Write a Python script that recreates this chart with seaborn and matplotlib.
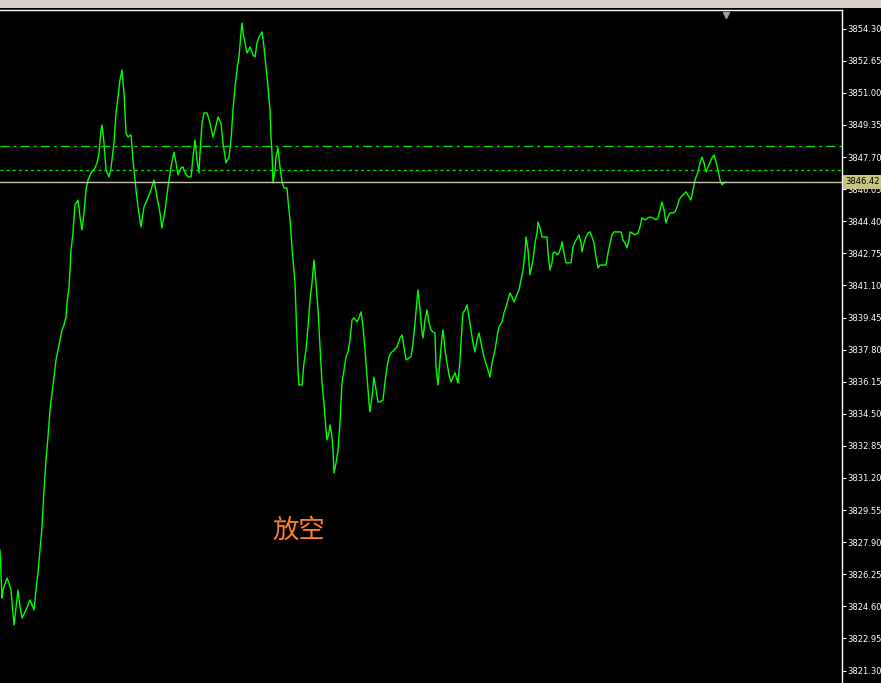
import matplotlib
matplotlib.use('Agg')
import matplotlib.pyplot as plt
import seaborn as sns
from matplotlib.patches import Rectangle

# M1 closes (bar position, price)
bars = [0, 2, 3, 7, 9, 11, 14, 18, 20, 22, 26, 30, 34, 36, 38, 40, 42, 44, 46, 48,
        50, 52, 54, 56, 58, 60, 62, 64, 66, 67, 69, 70, 71, 73, 74, 75, 78, 80, 82, 84,
        86, 88, 91, 95, 97, 99, 101, 102, 104, 106, 109, 111, 114, 116, 118, 120, 122, 124, 126, 128,
        131, 133, 136, 138, 141, 144, 147, 151, 154, 157, 160, 162, 165, 168, 171, 174, 176, 178, 181, 183,
        185, 188, 191, 193, 195, 197, 199, 200, 202, 204, 207, 210, 213, 215, 218, 221, 223, 226, 229, 231,
        233, 235, 237, 239, 241, 242, 243, 245, 247, 250, 253, 255, 257, 259, 262, 264, 266, 268, 270, 271,
        272, 273, 275, 276, 278, 280, 282, 284, 287, 288, 290, 291, 292, 293, 295, 296, 297, 298, 299, 302,
        304, 306, 308, 310, 312, 314, 316, 318, 320, 322, 324, 326, 327, 329, 330, 332, 333, 334, 336, 338,
        340, 342, 344, 346, 348, 350, 352, 354, 357, 359, 361, 363, 365, 367, 369, 370, 372, 374, 376, 378,
        380, 383, 385, 387, 389, 391, 394, 397, 400, 402, 404, 406, 409, 411, 413, 415, 417, 418, 420, 422,
        423, 425, 427, 429, 431, 433, 435, 436, 438, 440, 442, 443, 445, 447, 449, 451, 453, 455, 457, 458,
        460, 462, 463, 465, 467, 469, 471, 473, 475, 477, 479, 481, 484, 487, 489, 490, 492, 495, 497, 499,
        502, 504, 506, 508, 510, 512, 514, 516, 519, 521, 523, 525, 526, 528, 530, 533, 535, 537, 538, 540,
        542, 545, 547, 548, 550, 552, 553, 555, 557, 559, 561, 562, 564, 566, 569, 571, 573, 575, 578, 579,
        581, 582, 584, 586, 588, 590, 592, 594, 596, 598, 600, 603, 606, 608, 610, 612, 614, 617, 621, 623,
        625, 627, 629, 630, 632, 635, 638, 640, 642, 645, 648, 650, 653, 656, 658, 660, 662, 664, 666, 668,
        670, 673, 675, 677, 679, 681, 683, 686, 689, 691, 693, 695, 698, 700, 702, 704, 706, 708, 711, 714,
        716, 718, 720, 722, 724, 726]

close = [3827.50, 3825.03, 3825.44, 3826.06, 3825.80, 3825.44, 3823.64, 3825.44, 3824.57, 3824.00,
         3824.42, 3824.93, 3824.42, 3825.44, 3826.32, 3827.50, 3828.68, 3830.59, 3832.13, 3833.31,
         3834.70, 3835.57, 3836.39, 3837.27, 3837.78, 3838.30, 3838.81, 3839.07, 3839.48, 3840.20,
         3841.02, 3841.90, 3842.92, 3843.80, 3844.57, 3845.24, 3845.49, 3844.62, 3843.95, 3844.83,
         3846.01, 3846.52, 3846.88, 3847.14, 3847.40, 3847.91, 3849.09, 3849.35, 3848.42, 3847.04,
         3846.68, 3847.14, 3848.42, 3849.97, 3850.79, 3851.66, 3852.18, 3851.00, 3848.94, 3848.73,
         3848.84, 3847.55, 3846.01, 3845.13, 3844.11, 3845.13, 3845.49, 3846.01, 3846.52, 3845.65,
         3844.83, 3844.05, 3844.98, 3846.16, 3847.19, 3847.96, 3847.40, 3846.78, 3847.14, 3847.19,
         3846.88, 3846.68, 3846.68, 3847.70, 3848.58, 3847.55, 3846.88, 3847.91, 3849.45, 3849.97,
         3849.97, 3849.45, 3848.73, 3849.09, 3849.76, 3849.45, 3848.42, 3847.40, 3847.70, 3848.58,
         3850.12, 3851.30, 3852.18, 3852.85, 3854.08, 3854.59, 3854.08, 3853.57, 3853.05, 3853.36,
         3852.95, 3852.85, 3853.57, 3853.87, 3854.13, 3853.36, 3852.33, 3851.30, 3850.12, 3848.73,
         3847.91, 3846.37, 3847.04, 3847.70, 3848.17, 3847.19, 3846.42, 3846.11, 3846.11, 3845.49,
         3844.47, 3843.80, 3843.03, 3842.41, 3841.23, 3839.84, 3838.30, 3836.75, 3835.98, 3835.98,
         3837.11, 3837.78, 3838.97, 3840.35, 3841.23, 3842.41, 3841.23, 3839.84, 3837.94, 3836.09,
         3835.06, 3833.67, 3833.16, 3833.52, 3833.93, 3833.31, 3832.64, 3831.46, 3831.97, 3832.64,
         3834.03, 3836.09, 3836.75, 3837.42, 3837.68, 3838.30, 3839.32, 3839.43, 3839.22, 3839.43,
         3839.74, 3838.97, 3837.78, 3836.39, 3835.06, 3834.60, 3835.37, 3836.39, 3835.73, 3835.11,
         3835.11, 3835.21, 3836.14, 3836.91, 3837.42, 3837.63, 3837.78, 3837.94, 3838.40, 3838.55,
         3837.94, 3837.27, 3837.37, 3837.42, 3838.14, 3839.17, 3840.35, 3840.87, 3839.84, 3838.66,
         3838.40, 3839.32, 3839.84, 3839.17, 3838.81, 3838.71, 3838.66, 3836.91, 3835.98, 3837.27,
         3838.45, 3838.81, 3837.78, 3837.11, 3836.50, 3836.14, 3836.39, 3836.60, 3836.24, 3836.09,
         3837.27, 3838.97, 3839.69, 3839.84, 3840.10, 3839.48, 3838.81, 3838.14, 3837.68, 3838.30,
         3838.66, 3838.14, 3837.42, 3836.91, 3836.60, 3836.39, 3837.11, 3837.78, 3838.45, 3838.97,
         3839.22, 3839.69, 3839.99, 3840.35, 3840.71, 3840.51, 3840.25, 3840.51, 3840.87, 3841.38,
         3841.90, 3842.77, 3843.59, 3842.92, 3841.64, 3842.41, 3843.28, 3843.80, 3844.36, 3844.05,
         3843.59, 3843.59, 3843.59, 3842.77, 3841.90, 3842.26, 3842.77, 3842.82, 3842.67, 3842.77,
         3843.08, 3843.34, 3842.77, 3842.26, 3842.26, 3842.26, 3843.08, 3843.34, 3843.59, 3843.70,
         3843.28, 3842.82, 3843.28, 3843.59, 3843.80, 3843.85, 3843.59, 3843.28, 3842.56, 3842.00,
         3842.15, 3842.15, 3842.15, 3842.77, 3843.28, 3843.70, 3843.85, 3843.85, 3843.85, 3843.44,
         3843.28, 3843.03, 3843.44, 3843.85, 3843.80, 3843.70, 3843.80, 3844.11, 3844.57, 3844.47,
         3844.57, 3844.62, 3844.57, 3844.47, 3844.57, 3844.98, 3845.39, 3844.98, 3844.31, 3844.62,
         3844.83, 3844.83, 3844.88, 3845.13, 3845.49, 3845.65, 3845.75, 3845.91, 3845.65, 3845.49,
         3846.01, 3846.52, 3846.93, 3847.40, 3847.70, 3847.40, 3846.93, 3847.19, 3847.55, 3847.81,
         3847.45, 3847.04, 3846.52, 3846.27, 3846.37, 3846.42]

# horizontal levels
level_dashdot = 3848.27
level_dotted = 3847.04
bid = 3846.42

# right axis ticks
price_ticks = [3854.30, 3852.65, 3851.00, 3849.35, 3847.70, 3846.05, 3844.40, 3842.75,
               3841.10, 3839.45, 3837.80, 3836.15, 3834.50, 3832.85, 3831.20, 3829.55,
               3827.90, 3826.25, 3824.60, 3822.95, 3821.30]
tick_labels = [f'{p:.2f}' for p in price_ticks]

label_text = '放空'

sns.set_style('dark', {'axes.facecolor': 'black', 'figure.facecolor': 'black'})
plt.rcParams['font.family'] = ['DejaVu Sans', 'Noto Sans CJK SC']
plt.rcParams['lines.scale_dashes'] = False

fig = plt.figure(figsize=(8.81, 6.83), dpi=100)
fig.patch.set_facecolor('black')
# grey window strip on top
fig.patches.append(Rectangle((0, 1 - 8 / 683), 1, 8 / 683, transform=fig.transFigure,
                             facecolor='#d4d0c8', edgecolor='none', zorder=0))

ax = fig.add_axes([0, 0, 842 / 881, 1 - 10 / 683])
ax.set_facecolor('black')

sns.lineplot(x=bars, y=close, ax=ax, color='#00ff00', linewidth=1.0, estimator=None)

ax.axhline(level_dashdot, color='#00e000', linewidth=1.0, linestyle=(0, (6.5, 3, 2, 3)))
ax.axhline(level_dotted, color='#00e000', linewidth=1.0, linestyle=(0, (2.2, 2.2)))
ax.axhline(bid, color='#c8c8a8', linewidth=1.0)

# chart shift marker
ax.plot([726], [3855.0], marker='v', color='#a0a0a0', markersize=5, clip_on=False)

ax.text(272, 3828.5, label_text, color='#ff7f27', fontsize=19, ha='left', va='center',
        family=['Noto Sans CJK SC', 'DejaVu Sans'])

ax.set_xlim(0, 842)
ax.set_ylim(3820.66, 3855.26)
ax.set_xticks([])
ax.yaxis.tick_right()
ax.set_yticks(price_ticks)
ax.set_yticklabels(tick_labels)
ax.tick_params(axis='y', colors='white', labelcolor='white', labelsize=6,
               length=3, width=0.8, pad=1, direction='out')
ax.grid(False)
for side in ['left', 'bottom']:
    ax.spines[side].set_visible(False)
for side in ['top', 'right']:
    ax.spines[side].set_visible(True)
    ax.spines[side].set_color('white')
    ax.spines[side].set_linewidth(1.0)
ax.set_xlabel('')
ax.set_ylabel('')

# bid price tag on the axis
ax.text(1.004, bid, f'{bid:.2f}', transform=ax.get_yaxis_transform(), color='black',
        fontsize=6, ha='left', va='center', clip_on=False, zorder=10,
        bbox=dict(boxstyle='square,pad=0.25', facecolor='#c8c482', edgecolor='none'))

fig.savefig('out.png', dpi=100, facecolor='black')
